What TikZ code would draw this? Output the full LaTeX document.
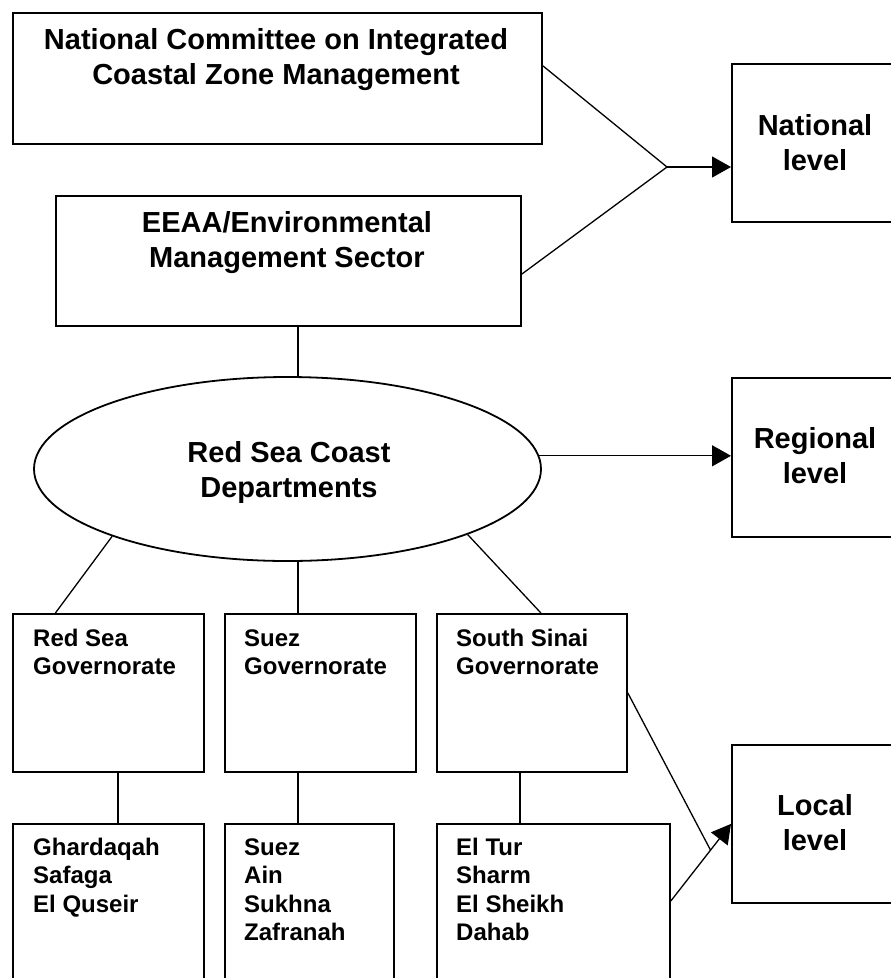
\documentclass[tikz,border=0pt]{standalone}
\usepackage{fontspec}
\setmainfont{Liberation Sans}
\usetikzlibrary{arrows.meta,calc,shapes.geometric}
\begin{document}
\begin{tikzpicture}[x=1pt,y=-1pt,
  box/.style={draw, line width=1.8pt, inner sep=0pt, anchor=north west},
  big/.style={font=\fontsize{29}{35}\selectfont\bfseries, align=center, anchor=base, inner sep=0pt},
  small/.style={font=\fontsize{24}{28.5}\selectfont\bfseries, align=left, anchor=base west, inner sep=0pt},
  link/.style={line width=1.3pt},
  arr/.style={link, -{Triangle[length=19pt,width=21pt]}}]
\useasboundingbox (0,0) rectangle (891,978);
% boxes
\node[box, minimum width=529pt, minimum height=131pt] (nc) at (12,12) {};
\node[box, minimum width=465pt, minimum height=130pt] (eeaa) at (55,195) {};
\node[box, minimum width=200pt, minimum height=158pt] (natl) at (731,63) {};
\node[draw, line width=1.8pt, ellipse, inner sep=0pt, minimum width=507pt, minimum height=184pt] (ell) at (287.5,469) {};
\node[box, minimum width=200pt, minimum height=159pt] (reg) at (731,377) {};
\node[box, minimum width=191pt, minimum height=158pt] (g1) at (12,613) {};
\node[box, minimum width=191pt, minimum height=158pt] (g2) at (224,613) {};
\node[box, minimum width=190pt, minimum height=158pt] (g3) at (436,613) {};
\node[box, minimum width=191pt, minimum height=200pt] (l1) at (12,823) {};
\node[box, minimum width=169pt, minimum height=200pt] (l2) at (224,823) {};
\node[box, minimum width=233pt, minimum height=200pt] (l3) at (436,823) {};
\node[box, minimum width=200pt, minimum height=158pt] (local) at (731,744) {};
% texts (anchored at the baseline of the last line)
\node[big] (tnc) at (276,84) {National Committee on Integrated\\Coastal Zone Management};
\node[big] (teeaa) at (287,267) {EEAA/Environmental\\Management Sector};
\node[big] (tnatl) at (815,170) {National\\level};
\node[big] (tell) at (289,497) {Red Sea Coast\\Departments};
\node[big] (treg) at (815,483) {Regional\\level};
\node[big] (tlocal) at (815,850) {Local\\level};
\node[small] (tg1) at (33,674.5) {Red Sea\\Governorate};
\node[small] (tg2) at (244,674.5) {Suez\\Governorate};
\node[small] (tg3) at (456,674.5) {South Sinai\\Governorate};
\node[small] (tl1) at (33,912) {Ghardaqah\\Safaga\\El Quseir};
\node[small] (tl2) at (244,940.5) {Suez\\Ain\\Sukhna\\Zafranah};
\node[small] (tl3) at (456,940.5) {El Tur\\Sharm\\El Sheikh\\Dahab};
% helper coordinates
\coordinate (j) at (667,167);
\coordinate (mx) at (298,0);
\coordinate (x1) at (118,0);
\coordinate (x3) at (520,0);
% national connectors
\draw[link] ($(nc.north east)!0.405!(nc.south east)$) -- (j);
\draw[link] ($(eeaa.north east)!0.6!(eeaa.south east)$) -- (j);
\draw[arr] (j) -- (j -| natl.west);
% eeaa to ellipse
\draw[link] (eeaa.south -| mx) -- (ell.north -| mx);
% ellipse to regional
\draw[arr] (ell.3) -- (ell.3 -| reg.west);
% ellipse to governorates
\draw[link] (ell.201) -- ($(g1.north west)!0.225!(g1.north east)$);
\draw[link] (ell.south -| mx) -- (g2.north -| mx);
\draw[link] (ell.340.8) -- ($(g3.north west)!0.547!(g3.north east)$);
% governorates to cities
\draw[link] (g1.south -| x1) -- (l1.north -| x1);
\draw[link] (g2.south -| mx) -- (l2.north -| mx);
\draw[link] (g3.south -| x3) -- (l3.north -| x3);
% local level
\coordinate (le) at ($(l3.north east)+(0,78)$);
\draw[arr] (le) -- (local.west);
\coordinate (ap) at ($(le)!0.66!(local.west)$);
\draw[link] (g3.east) -- (ap);
\end{tikzpicture}
\end{document}
